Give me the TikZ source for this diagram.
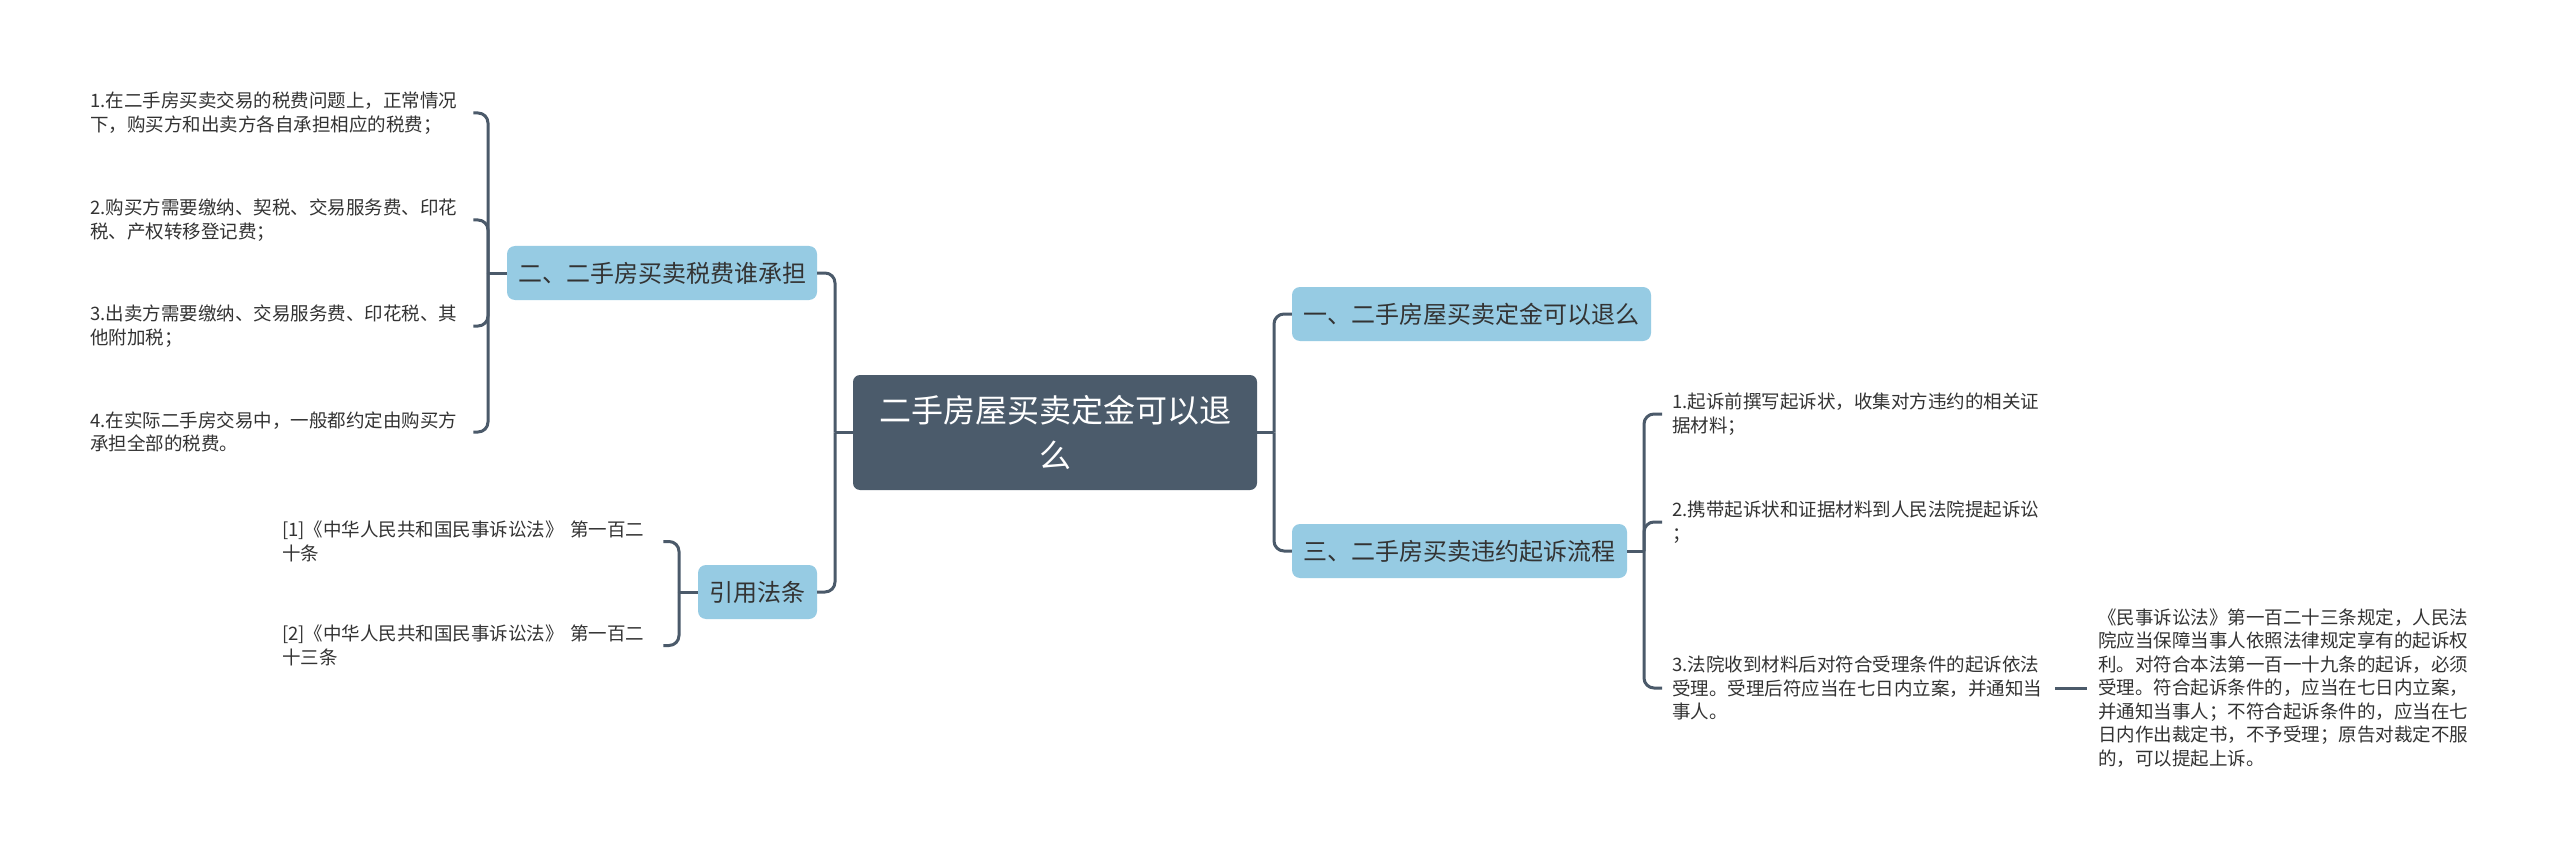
\documentclass[tikz,border=0pt]{standalone}
\usepackage{fontspec}
\newfontfamily\cjk{Noto Sans CJK SC}
\definecolor{linec}{HTML}{4B5A6A}
\definecolor{rootc}{HTML}{4B5B6B}
\definecolor{branchc}{HTML}{96CBE3}
\definecolor{textc}{HTML}{333333}
\begin{document}
\begin{tikzpicture}[x=1pt,y=-1pt,
  conn/.style={draw=linec, line width=3pt, rounded corners=10pt},
  rootbox/.style={fill=rootc, rounded corners=7pt, minimum width=404pt, minimum height=115pt, text=white, font=\cjk\fontsize{32pt}{45pt}\selectfont, align=center, inner sep=0pt},
  branch/.style={fill=branchc, rounded corners=8pt, minimum height=54pt, text=textc, font=\cjk\fontsize{24pt}{30pt}\selectfont, inner xsep=0pt, inner ysep=0pt},
  leaf/.style={text=textc, font=\cjk\fontsize{18.5pt}{23.5pt}\selectfont, align=left, inner ysep=0pt, anchor=west},
]
\fill[white] (0,0) rectangle (2560,861);
\useasboundingbox (0,0) rectangle (2560,861);

% root
\node[rootbox] (root) at (1055,432.5) {二手房屋买卖定金可以退\\么};

% branches
\node[branch, minimum width=359pt] (n1) at (1471.5,314) {一、二手房屋买卖定金可以退么};
\node[branch, minimum width=335pt] (n3) at (1459.5,551) {三、二手房买卖违约起诉流程};
\node[branch, minimum width=310pt] (n2) at (662,273) {二、二手房买卖税费谁承担};
\node[branch, minimum width=119pt] (ref) at (757.5,592) {引用法条};

% left leaves (tax)
\node[leaf, inner xsep=0pt, text width=383pt] (a1) at (90,113) {1.在二手房买卖交易的税费问题上，正常情况\\下，购买方和出卖方各自承担相应的税费；};
\node[leaf, inner xsep=0pt, text width=383pt] (a2) at (90,220) {2.购买方需要缴纳、契税、交易服务费、印花\\税、产权转移登记费；};
\node[leaf, inner xsep=0pt, text width=383pt] (a3) at (90,326) {3.出卖方需要缴纳、交易服务费、印花税、其\\他附加税；};
\node[leaf, inner xsep=0pt, text width=383pt] (a4) at (90,432) {4.在实际二手房交易中，一般都约定由购买方\\承担全部的税费。};

% references
\node[leaf, inner xsep=0pt, text width=381pt] (r1) at (282,541.5) {[1]《中华人民共和国民事诉讼法》 第一百二\\十条};
\node[leaf, inner xsep=0pt, text width=381pt] (r2) at (282,645.5) {[2]《中华人民共和国民事诉讼法》 第一百二\\十三条};

% right leaves
\node[leaf, inner xsep=10pt, text width=373pt] (c1) at (1662,414) {1.起诉前撰写起诉状，收集对方违约的相关证\\据材料；};
\node[leaf, inner xsep=10pt, text width=373pt] (c2) at (1662,522) {2.携带起诉状和证据材料到人民法院提起诉讼\\；};
\node[leaf, inner xsep=10pt, text width=373pt] (c3) at (1662,688) {3.法院收到材料后对符合受理条件的起诉依法\\受理。受理后符应当在七日内立案，并通知当\\事人。};
\node[leaf, inner xsep=11pt, text width=375pt] (d1) at (2087,688) {《民事诉讼法》第一百二十三条规定，人民法\\院应当保障当事人依照法律规定享有的起诉权\\利。对符合本法第一百一十九条的起诉，必须\\受理。符合起诉条件的，应当在七日内立案，\\并通知当事人；不符合起诉条件的，应当在七\\日内作出裁定书，不予受理；原告对裁定不服\\的，可以提起上诉。};

% junctions
\coordinate (jL) at (835,432.5);
\coordinate (jR) at (1274,432.5);
\coordinate (j2) at (488,273);
\coordinate (jr) at (679,592);
\coordinate (j3) at (1644,551);

% connectors
\draw[conn] (root.west) -- (jL);
\draw[conn] (jL) |- (n2.east);
\draw[conn] (jL) |- (ref.east);
\draw[conn] (root.east) -- (jR);
\draw[conn] (jR) |- (n1.west);
\draw[conn] (jR) |- (n3.west);

\draw[conn] (n2.west) -- (j2);
\draw[conn] (j2) |- (a1.east);
\draw[conn] (j2) |- (a2.east);
\draw[conn] (j2) |- (a3.east);
\draw[conn] (j2) |- (a4.east);

\draw[conn] (ref.west) -- (jr);
\draw[conn] (jr) |- (r1.east);
\draw[conn] (jr) |- (r2.east);

\draw[conn] (n3.east) -- (j3);
\draw[conn] (j3) |- (c1.west);
\draw[conn] (j3) |- (c2.west);
\draw[conn] (j3) |- (c3.west);

\draw[conn] (c3.east) -- (d1.west);
\end{tikzpicture}
\end{document}
